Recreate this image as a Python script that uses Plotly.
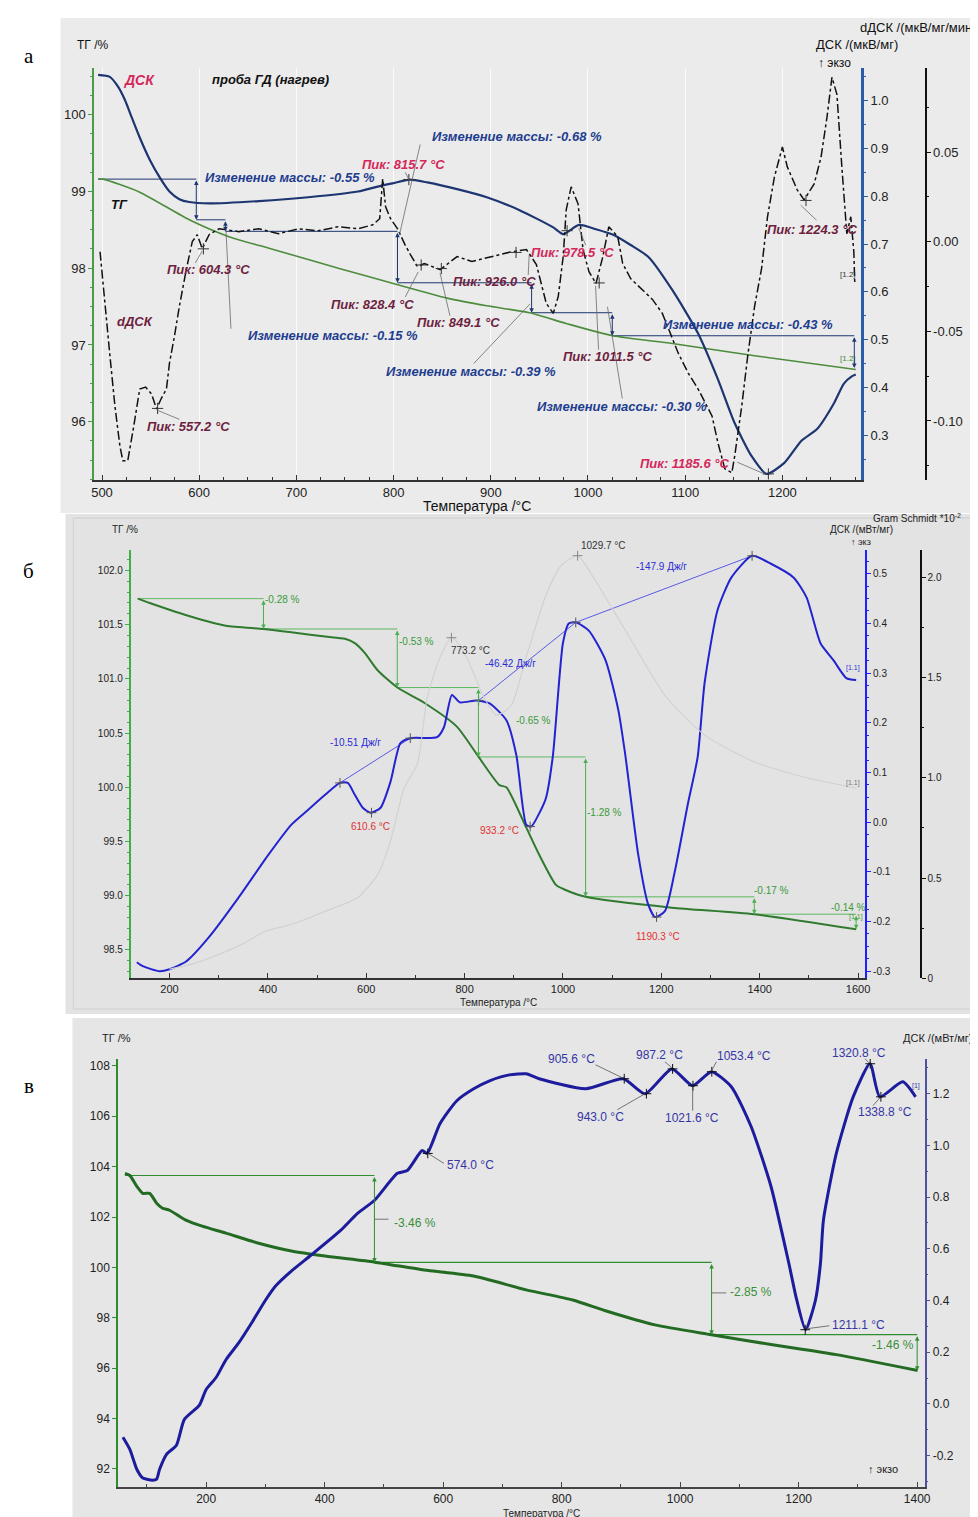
import plotly.graph_objects as go

W, H = 978, 1517
FONT = "Liberation Sans, Arial, sans-serif"
SERIF = "Liberation Serif, Times New Roman, serif"

# ===================== Panel а =====================
A_DSC_T = [496, 508, 516, 523.5, 530.6, 538.8, 549, 559.2, 569.4, 579.6, 589.8, 610.2, 661.2, 712.2,
           763.3, 788.8, 799, 816.3, 834.7, 865.3, 895.9, 929.6, 964.3, 974.5, 990.8, 1008.2, 1026.5,
           1043.9, 1062.2, 1086.7, 1113.3, 1133.7, 1151, 1168.4, 1183.7, 1202, 1219.4, 1235.7, 1253.1,
           1263.3, 1271.4, 1275.5]
A_DSC_V = [1.054, 1.050, 1.031, 1.002, 0.965, 0.923, 0.877, 0.840, 0.810, 0.794, 0.788, 0.785, 0.790, 0.798,
           0.810, 0.823, 0.827, 0.835, 0.829, 0.815, 0.798, 0.771, 0.735, 0.721, 0.740, 0.731, 0.719,
           0.698, 0.673, 0.604, 0.513, 0.417, 0.325, 0.256, 0.219, 0.242, 0.288, 0.313, 0.367,
           0.408, 0.423, 0.427]

A_TG_T = [496, 501, 538.8, 589.8, 630.6, 674.5, 745.9, 796.9, 855.1, 895.9, 939.8, 977.6, 1025.5,
          1086.7, 1171.4, 1275.5]
A_TG_V = [99.16, 99.16, 98.99, 98.63, 98.41, 98.25, 97.99, 97.81, 97.61, 97.51, 97.42, 97.28, 97.12,
          97.02, 96.86, 96.68]

A_DDSC_T = [498, 503.1, 508.2, 513.3, 518.4, 521.4, 526.5, 532.7, 538.8, 544.9, 551, 556.1, 561.2, 566.3,
            569.4, 574.5, 579.6, 586.7, 592.9, 598, 603.1, 610.2, 620.4, 640.8, 661.2, 681.6, 702, 722.4,
            742.9, 763.3, 778.6, 785.7, 788.8, 791.8, 796.9, 804.1, 811.2, 817.3, 824.5, 831.6, 848,
            865.3, 880.6, 892.9, 909.2, 921.4, 936.7, 946.9, 957.1, 964.3, 969.4, 974.5, 977.6, 982.7,
            989.8, 994.9, 1001, 1008.2, 1015.3, 1021.4, 1030.6, 1035.7, 1043.9, 1056.1, 1066.3, 1076.5,
            1086.7, 1092.9, 1103.1, 1113.3, 1127.6, 1133.7, 1140.8, 1148, 1151, 1158.2, 1164.3, 1171.4,
            1178.6, 1184.7, 1191.8, 1200, 1205.1, 1215.3, 1222.4, 1232.7, 1239.8, 1245.9, 1251, 1256.1,
            1261.2, 1266.3, 1270.4, 1273.5, 1274.5]
A_DDSC_V = [-0.0056, -0.0361, -0.0639, -0.0917, -0.1139, -0.1222, -0.1222, -0.1028, -0.0822, -0.0811,
            -0.0850, -0.0933, -0.0872, -0.0822, -0.0678, -0.0528, -0.0361, -0.0156, 0.0, 0.0039, -0.0039,
            0.0039, 0.0072, 0.0056, 0.0072, 0.0044, 0.0072, 0.0061, 0.0083, 0.0072, 0.0094, 0.0128, 0.0350,
            0.0194, 0.0128, 0.0072, -0.0011, -0.0072, -0.0139, -0.0122, -0.0156, -0.0083, -0.0111, -0.0094,
            -0.0072, -0.0056, -0.0044, -0.0128, -0.0344, -0.0400, -0.0306, -0.0083, 0.0178, 0.0306, 0.0211,
            -0.0044, -0.0167, -0.0233, -0.0083, 0.0083, 0.0028, -0.0122, -0.0206, -0.0267, -0.0322, -0.0400,
            -0.0544, -0.0622, -0.0733, -0.0822, -0.0972, -0.1122, -0.1267, -0.1289, -0.1194, -0.0917,
            -0.0639, -0.0361, -0.0150, 0.0139, 0.0361, 0.0528, 0.0417, 0.0289, 0.0233, 0.0322, 0.0472,
            0.0694, 0.0917, 0.0822, 0.0417, 0.0044, 0.0139, -0.0056, -0.0233]

A_STEP_T = [496, 597, 627, 804, 942, 1025, 1274]
A_STEP_L = [99.16, 98.63, 98.48, 97.81, 97.42, 97.12, 96.70]

A_DPEAK_T = [557.2, 604.3, 828.4, 849.1, 926.0, 1011.5, 1224.3]
A_DPEAK_V = [-0.093, -0.004, -0.013, -0.015, -0.006, -0.023, 0.023]
A_PEAK_T = [815.7, 978.5, 1185.6]
A_PEAK_V = [0.835, 0.728, 0.219]

# ===================== Panel б =====================
B_TG_T = [135.5, 159.7, 246.3, 314.8, 391.4, 447.8, 516.3, 556.6, 576.7, 596.9, 623, 663.3, 717.7, 784.2,
          828.5, 870.8, 884.9, 925.2, 951.4, 985.7, 1001.8, 1046.1, 1221.4, 1388.6, 1596.1]
B_TG_V = [101.74, 101.70, 101.57, 101.49, 101.46, 101.43, 101.39, 101.37, 101.33, 101.24, 101.08, 100.92,
          100.78, 100.56, 100.28, 100.02, 100.00, 99.63, 99.38, 99.10, 99.06, 98.99, 98.89, 98.83, 98.69]

B_DSC_T = [133.5, 145.6, 179.9, 200, 234.2, 280.6, 341, 401.5, 447.8, 482, 516.3, 546.5, 562.6, 576.7,
           592.8, 608.9, 629.1, 649.2, 669.4, 689.5, 743.9, 758, 774.1, 790.2, 824.5, 850.7, 884.9, 905.1,
           925.2, 935.3, 955.4, 965.5, 979.6, 999.8, 1011.8, 1025.9, 1052.1, 1086.4, 1112.6, 1126.7,
           1152.9, 1173, 1187.1, 1207.3, 1227.4, 1253.6, 1273.8, 1287.9, 1314, 1342.2, 1384.5, 1422.8,
           1469.2, 1495.4, 1523.6, 1549.8, 1576, 1596.1]
B_DSC_V = [-0.282, -0.290, -0.300, -0.296, -0.280, -0.231, -0.151, -0.065, -0.005, 0.025, 0.055, 0.079,
           0.079, 0.055, 0.029, 0.019, 0.029, 0.081, 0.159, 0.169, 0.171, 0.191, 0.256, 0.241, 0.245, 0.239,
           0.205, 0.135, -0.005, -0.009, 0.025, 0.049, 0.135, 0.360, 0.400, 0.402, 0.386, 0.326, 0.225,
           0.135, -0.065, -0.165, -0.191, -0.179, -0.099, 0.035, 0.131, 0.280, 0.426, 0.492, 0.536, 0.520,
           0.492, 0.452, 0.360, 0.326, 0.290, 0.286]

B_GS_T = [200, 246, 301, 347, 395, 448, 516, 583, 623, 649, 677, 704, 724, 750, 774, 804, 839, 865, 895,
          925, 965, 996, 1030, 1066, 1127, 1207, 1288, 1389, 1489, 1596]
B_GS_V = [0.045, 0.070, 0.119, 0.169, 0.234, 0.269, 0.333, 0.403, 0.517, 0.682, 0.950, 1.070, 1.403, 1.602,
          1.701, 1.602, 1.403, 1.313, 1.363, 1.602, 1.910, 2.060, 2.109, 1.985, 1.736, 1.413, 1.214, 1.080,
          1.005, 0.950]

B_BASE_T = [546.5, 689.5, None, 828.5, 1025.9, 1384.5]
B_BASE_V = [0.079, 0.169, None, 0.245, 0.402, 0.536]

B_STEP_T = [135, 391, 663, 828, 1046, 1389, 1596]
B_STEP_L = [101.74, 101.46, 100.92, 100.28, 98.99, 98.83, 98.69]

B_PEAK_T = [546.5, 689.5, 610.6, 828.5, 933.2, 1025.9, 1190.3, 1384.5]
B_PEAK_V = [0.079, 0.169, 0.019, 0.245, -0.009, 0.402, -0.191, 0.536]
B_GPEAK_T = [773.2, 1029.7]
B_GPEAK_V = [1.70, 2.11]

# ===================== Panel в =====================
C_DSC_T = [59.5, 71.2, 82.9, 93, 109.7, 116.4, 121.4, 133.1, 149.8, 163.2, 188.3, 200, 216.7, 233.4, 255.2,
           276.9, 300.3, 317.1, 343.8, 377.3, 427.4, 455.9, 484.3, 522.7, 539.5, 564.5, 572.9, 594.6,
           623.1, 651.5, 678.3, 711.7, 740.1, 761.9, 840.5, 904, 940.8, 986, 1021.1, 1052.8, 1086.3,
           1119.7, 1153.2, 1183.3, 1196.7, 1211.7, 1228.4, 1236.8, 1241.8, 1263.5, 1292, 1320.4, 1337.1,
           1375.6, 1397.3]
C_DSC_V = [-0.129, -0.176, -0.253, -0.287, -0.295, -0.291, -0.253, -0.195, -0.160, -0.060, -0.006, 0.056,
           0.102, 0.171, 0.237, 0.314, 0.402, 0.456, 0.514, 0.576, 0.672, 0.738, 0.788, 0.892, 0.903, 0.980,
           0.969, 1.084, 1.173, 1.219, 1.250, 1.273, 1.277, 1.258, 1.219, 1.258, 1.200, 1.296, 1.231, 1.285,
           1.227, 1.073, 0.842, 0.545, 0.402, 0.287, 0.402, 0.545, 0.711, 0.969, 1.188, 1.316, 1.188, 1.246,
           1.188]

C_TG_T = [62.9, 71.2, 82.9, 93, 104.7, 116.4, 126.4, 138.1, 154.8, 166.6, 193.3, 233.4, 288.6, 343.8,
          400.7, 484.3, 567.9, 651.5, 740.1, 818.7, 873.9, 957.5, 1052.8, 1153.2, 1263.5, 1400.7]
C_TG_V = [103.73, 103.65, 103.22, 102.94, 102.94, 102.55, 102.35, 102.27, 102.03, 101.87, 101.64, 101.36,
          100.96, 100.65, 100.45, 100.21, 99.90, 99.66, 99.11, 98.71, 98.28, 97.72, 97.33, 96.94, 96.54,
          95.91]

C_STEP_T = [63, 484, 1053, 1400]
C_STEP_L = [103.65, 100.20, 97.33, 95.90]

C_PEAK_T = [574.0, 905.6, 943.0, 987.2, 1021.6, 1053.4, 1211.1, 1320.8, 1338.8]
C_PEAK_V = [0.969, 1.258, 1.200, 1.296, 1.231, 1.285, 0.287, 1.316, 1.188]


# ===================== helpers =====================
def dxp(a, b):
    return [a / W, b / W]


def dyp(top, bottom):
    return [1 - bottom / H, 1 - top / H]


def stair(T, L):
    xs, ys = [], []
    for i in range(len(T) - 1):
        xs += [T[i], T[i + 1], None]
        ys += [L[i], L[i], None]
    return xs, ys


def txt(x, y, s, color="#000", size=12, xanchor="center", bi=False, family=FONT):
    t = f"<b><i>{s}</i></b>" if bi else s
    return dict(x=x / W, y=1 - y / H, xref="paper", yref="paper", text=t, showarrow=False,
                xanchor=xanchor, yanchor="middle", font=dict(color=color, size=size, family=family))


def line_shape(p1, p2, color="#777", width=0.8):
    return dict(type="line", xref="paper", yref="paper", x0=p1[0] / W, y0=1 - p1[1] / H,
                x1=p2[0] / W, y1=1 - p2[1] / H, line=dict(color=color, width=width), layer="above")


def step_arrows(T, L, xr, yr, color):
    out = []
    for i in range(len(T) - 1):
        out.append(dict(x=T[i + 1], y=L[i + 1], ax=T[i + 1], ay=L[i], xref=xr, yref=yr, axref=xr, ayref=yr,
                        text="", showarrow=True, arrowhead=2, startarrowhead=2, arrowside="end+start",
                        arrowsize=0.9, startarrowsize=0.9, arrowwidth=1, arrowcolor=color,
                        font=dict(size=8)))
    return out


fig = go.Figure()


def add_line(x, y, xa, ya, color, width, dash="solid", spline=True):
    fig.add_trace(go.Scatter(x=x, y=y, xaxis=xa, yaxis=ya, mode="lines", hoverinfo="skip", showlegend=False,
                             line=dict(color=color, width=width, dash=dash,
                                       shape="spline" if spline else "linear", smoothing=0.6)))


def add_marks(x, y, xa, ya, color, size=8):
    fig.add_trace(go.Scatter(x=x, y=y, xaxis=xa, yaxis=ya, mode="markers", hoverinfo="skip", showlegend=False,
                             marker=dict(symbol="cross-thin", size=size, line=dict(width=1, color=color))))


# ---- panel а traces ----
NAVY = "#1d3570"
sx, sy = stair(A_STEP_T, A_STEP_L)
add_line(sx, sy, "x", "y", NAVY, 1, spline=False)
add_line(A_TG_T, A_TG_V, "x", "y", "#4c8c3c", 1.6)
add_line(A_DDSC_T, A_DDSC_V, "x", "y3", "#111111", 1.5, dash="dashdot", spline=False)
add_line(A_DSC_T, A_DSC_V, "x", "y2", NAVY, 2.2)
add_marks(A_DPEAK_T, A_DPEAK_V, "x", "y3", "#333")
add_marks(A_PEAK_T, A_PEAK_V, "x", "y2", "#333")

# ---- panel б traces ----
sx, sy = stair(B_STEP_T, B_STEP_L)
add_line(sx, sy, "x2", "y4", "#5cb85c", 1, spline=False)
add_line(B_GS_T, B_GS_V, "x2", "y6", "#d0d0d0", 1.1)
add_line(B_BASE_T, B_BASE_V, "x2", "y5", "#5a5ae6", 1, spline=False)
add_line(B_TG_T, B_TG_V, "x2", "y4", "#2f7a2f", 2)
add_line(B_DSC_T, B_DSC_V, "x2", "y5", "#2323d0", 2)
add_marks(B_PEAK_T, B_PEAK_V, "x2", "y5", "#555", 7)
add_marks(B_GPEAK_T, B_GPEAK_V, "x2", "y6", "#888", 7)

# ---- panel в traces ----
sx, sy = stair(C_STEP_T, C_STEP_L)
add_line(sx, sy, "x3", "y7", "#2f8f2f", 1.2, spline=False)
add_line(C_TG_T, C_TG_V, "x3", "y7", "#236b23", 3)
add_line(C_DSC_T, C_DSC_V, "x3", "y8", "#1c1c9c", 3)
add_marks(C_PEAK_T, C_PEAK_V, "x3", "y8", "#111", 7)


# ===================== axes =====================
def xax(dom, rng, dtick, fs, anchor, grid=False, minor=None, color="#333"):
    d = dict(domain=dom, range=rng, dtick=dtick, tick0=0, anchor=anchor, showline=True, linecolor=color,
             linewidth=1.5, ticks="inside", ticklen=5, tickcolor=color,
             tickfont=dict(size=fs, color="#222", family=FONT), showgrid=grid, gridcolor="#fbfbfb",
             gridwidth=1.2, zeroline=False)
    if minor:
        d["minor"] = dict(ticks="inside", ticklen=3, dtick=minor, tickcolor=color, showgrid=False)
    return d


def yax(dom, rng, tickvals, ticktext, fs, color, side="left", anchor=None, overlaying=None, position=None,
        minor=None, lw=1.5, ticks="outside"):
    d = dict(domain=dom, range=rng, tickvals=tickvals, ticktext=ticktext, side=side, showline=True,
             linecolor=color, linewidth=lw, ticks=ticks, ticklen=4, tickcolor=color,
             tickfont=dict(size=fs, color="#222", family=FONT), showgrid=False, zeroline=False)
    if anchor:
        d["anchor"] = anchor
    if overlaying:
        d["overlaying"] = overlaying
    if position is not None:
        d["position"] = position
    if minor:
        d["minor"] = dict(ticks=ticks, ticklen=2, dtick=minor, tickcolor=color)
    return d


A_X = dxp(84, 858)
A_Y = dyp(60, 474)
B_X = dxp(121, 862)
B_Y = dyp(544, 974)
C_X = dxp(108, 922)
C_Y = dyp(1055, 1485)

A_TG_TICKS = [96, 97, 98, 99, 100]
A_DSC_TICKS = [0.3, 0.4, 0.5, 0.6, 0.7, 0.8, 0.9, 1.0]
A_DD_TICKS = [-0.10, -0.05, 0.0, 0.05]
B_TG_TICKS = [98.5, 99.0, 99.5, 100.0, 100.5, 101.0, 101.5, 102.0]
B_DSC_TICKS = [-0.3, -0.2, -0.1, 0.0, 0.1, 0.2, 0.3, 0.4, 0.5]
B_GS_TICKS = [0, 0.5, 1.0, 1.5, 2.0]
C_TG_TICKS = [92, 94, 96, 98, 100, 102, 104, 106, 108]
C_DSC_TICKS = [-0.2, 0.0, 0.2, 0.4, 0.6, 0.8, 1.0, 1.2]

layout_axes = dict(
    xaxis=xax(A_X, [492, 1281], 100, 13, "y", grid=True, minor=25),
    yaxis=yax(A_Y, [95.24, 100.61], A_TG_TICKS, [str(v) for v in A_TG_TICKS], 13, "#4a9a4a", anchor="x",
              minor=0.25, lw=2),
    yaxis2=yax(A_Y, [0.206, 1.069], A_DSC_TICKS, [f"{v:.1f}" for v in A_DSC_TICKS], 13, "#2a5ca8",
               side="right", anchor="x", overlaying="y", minor=0.05, lw=2.5),
    yaxis3=yax(A_Y, [-0.133, 0.097], A_DD_TICKS, [f"{v:.2f}" for v in A_DD_TICKS], 13, "#111",
               side="right", anchor="free", overlaying="y", position=923 / W, minor=0.025, lw=2),
    xaxis2=xax(B_X, [121.4, 1614.2], 200, 11, "y4", minor=100),
    yaxis4=yax(B_Y, [98.24, 102.19], B_TG_TICKS, [f"{v:.1f}" for v in B_TG_TICKS], 10, "#3cb043", anchor="x2",
               minor=0.1, lw=2),
    yaxis5=yax(B_Y, [-0.314, 0.548], B_DSC_TICKS, [f"{v:.1f}" for v in B_DSC_TICKS], 10, "#2020ff",
               side="right", anchor="x2", overlaying="y4", minor=0.025, lw=2),
    yaxis6=yax(B_Y, [0, 2.139], B_GS_TICKS, ["0", "0.5", "1.0", "1.5", "2.0"], 10, "#111",
               side="right", anchor="free", overlaying="y4", position=918 / W, minor=0.25, lw=2),
    xaxis3=xax(C_X, [51.2, 1412.4], 200, 12, "y7", minor=100, color="#444"),
    yaxis7=yax(C_Y, [91.28, 108.28], C_TG_TICKS, [str(v) for v in C_TG_TICKS], 12, "#2e8b2e", anchor="x3",
               lw=1.5),
    yaxis8=yax(C_Y, [-0.322, 1.335], C_DSC_TICKS, [f"{v:.1f}" for v in C_DSC_TICKS], 12, "#5050a0",
               side="right", anchor="x3", overlaying="y7", minor=0.1, lw=1.5),
)

# ===================== shapes =====================
shapes = [
    dict(type="rect", xref="paper", yref="paper", x0=50 / W, x1=1, y0=1 - 507 / H, y1=1 - 10 / H,
         fillcolor="#ebebeb", line=dict(width=0), layer="below"),
    dict(type="rect", xref="paper", yref="paper", x0=55 / W, x1=1, y0=1 - 1010 / H, y1=1 - 508 / H,
         fillcolor="#e3e3e3", line=dict(width=0), layer="below"),
    dict(type="rect", xref="paper", yref="paper", x0=63 / W, x1=973 / W, y0=1 - 1005 / H, y1=1 - 512 / H,
         fillcolor="rgba(0,0,0,0)", line=dict(width=1, color="#cfcfcf"), layer="below"),
    dict(type="rect", xref="paper", yref="paper", x0=62 / W, x1=1, y0=0, y1=1 - 1014 / H,
         fillcolor="#e6e6e6", line=dict(width=0), layer="below"),
]
LEAD_A = [((413, 137), (392, 228)), ((222, 322), (217, 224)), ((186, 256), (193, 244)),
          ((398, 290), (411, 265)), ((443, 309), (433, 266)), ((467, 357), (524, 297)),
          ((593, 343), (590, 279)), ((617, 392), (602, 300)), ((170, 413), (148, 404)),
          ((813, 213), (797, 198)), ((733, 456), (761, 468)), ((398, 165), (402, 173)),
          ((580, 238), (573, 221)), ((522, 268), (523, 248))]
LEAD_C = [((437, 1160), (421, 1150)), ((590, 1061), (617, 1074)), ((612, 1106), (640, 1090)),
          ((660, 1058), (667, 1064)), ((688, 1107), (688, 1083)), ((712, 1058), (707, 1067)),
          ((862, 1055), (866, 1059)), ((870, 1102), (877, 1094)), ((826, 1323), (803, 1326)),
          ((381, 1216), (367, 1216)), ((722, 1290), (707, 1290))]
for p1, p2 in LEAD_A:
    shapes.append(line_shape(p1, p2, "#6a6a6a", 0.8))
for p1, p2 in LEAD_C:
    shapes.append(line_shape(p1, p2, "#555", 0.8))

# ===================== annotations =====================
CR = "#d4285a"
MR = "#6e1f3f"
NB = "#1e3d8f"
ann = []
# panel labels
ann += [txt(18, 48, "а", "#000", 21, family=SERIF), txt(18, 565, "б", "#000", 21, family=SERIF),
        txt(18, 1082, "в", "#000", 21, family=SERIF)]
# panel а
ann += [
    txt(65, 37, "ТГ /%", "#111", 12, "left"),
    txt(810, 37, "ДСК /(мкВ/мг)", "#111", 13, "left"),
    txt(812, 55, "↑ экзо", "#111", 12, "left"),
    txt(855, 20, "dДСК /(мкВ/мг/мин)", "#111", 13, "left"),
    txt(470, 500, "Температура /°C", "#111", 14),
    txt(130, 72, "ДСК", CR, 14, bi=True),
    txt(262, 72, "проба ГД (нагрев)", "#111", 13, bi=True),
    txt(282, 170, "Изменение массы: -0.55 %", NB, 13, bi=True),
    txt(396, 157, "Пик: 815.7 °C", CR, 13, bi=True),
    txt(511, 129, "Изменение массы: -0.68 %", NB, 13, bi=True),
    txt(110, 197, "ТГ", "#111", 13, bi=True),
    txt(199, 263, "Пик: 604.3 °C", MR, 13, bi=True),
    txt(365, 298, "Пик: 828.4 °C", MR, 13, bi=True),
    txt(488, 275, "Пик: 926.0 °C", MR, 13, bi=True),
    txt(567, 245, "Пик: 978.5 °C", CR, 13, bi=True),
    txt(452, 316, "Пик: 849.1 °C", MR, 13, bi=True),
    txt(325, 329, "Изменение массы: -0.15 %", NB, 13, bi=True),
    txt(744, 318, "Изменение массы: -0.43 %", NB, 13, bi=True),
    txt(464, 365, "Изменение массы: -0.39 %", NB, 13, bi=True),
    txt(602, 350, "Пик: 1011.5 °C", MR, 13, bi=True),
    txt(617, 400, "Изменение массы: -0.30 %", NB, 13, bi=True),
    txt(179, 420, "Пик: 557.2 °C", MR, 13, bi=True),
    txt(680, 457, "Пик: 1185.6 °C", CR, 13, bi=True),
    txt(808, 222, "Пик: 1224.3 °C", MR, 13, bi=True),
    txt(125, 315, "dДСК", MR, 13, bi=True),
    txt(845, 268, "[1.2]", "#333", 8),
    txt(845, 352, "[1.2]", "#3a8a3a", 8),
]
# panel б
GB = "#3a9a3a"
BB = "#2b2bd6"
RB = "#e03030"
ann += [
    txt(100, 524, "ТГ /%", "#222", 10, "left"),
    txt(868, 512, "Gram Schmidt *10<sup>-2</sup>", "#222", 10, "left"),
    txt(825, 524, "ДСК /(мВт/мг)", "#222", 10, "left"),
    txt(846, 536, "↑ экз", "#222", 9, "left"),
    txt(492, 998, "Температура /°C", "#222", 10),
    txt(348, 737, "-10.51 Дж/г", BB, 10),
    txt(464, 645, "773.2 °C", "#333", 10),
    txt(504, 658, "-46.42 Дж/г", BB, 10),
    txt(598, 540, "1029.7 °C", "#333", 10),
    txt(657, 561, "-147.9 Дж/г", BB, 10),
    txt(363, 822, "610.6 °C", RB, 10),
    txt(493, 826, "933.2 °C", RB, 10),
    txt(653, 932, "1190.3 °C", RB, 10),
    txt(254, 594, "-0.28 %", GB, 10, "left"),
    txt(390, 636, "-0.53 %", GB, 10, "left"),
    txt(508, 715, "-0.65 %", GB, 10, "left"),
    txt(579, 808, "-1.28 %", GB, 10, "left"),
    txt(748, 886, "-0.17 %", GB, 10, "left"),
    txt(826, 903, "-0.14 %", GB, 10, "left"),
    txt(850, 663, "[1.1]", BB, 7),
    txt(850, 778, "[1.1]", "#777", 7),
    txt(853, 913, "[1.1]", GB, 7),
]
# panel в
BC = "#3535a5"
GC = "#3a8f3a"
ann += [
    txt(90, 1034, "ТГ /%", "#222", 11, "left"),
    txt(898, 1034, "ДСК /(мВт/мг)", "#222", 11, "left"),
    txt(535, 1511, "Температура /°C", "#222", 10),
    txt(464, 1162, "574.0 °C", BC, 12),
    txt(566, 1055, "905.6 °C", BC, 12),
    txt(595, 1113, "943.0 °C", BC, 12),
    txt(655, 1051, "987.2 °C", BC, 12),
    txt(687, 1114, "1021.6 °C", BC, 12),
    txt(740, 1052, "1053.4 °C", BC, 12),
    txt(856, 1049, "1320.8 °C", BC, 12),
    txt(882, 1108, "1338.8 °C", BC, 12),
    txt(855, 1322, "1211.1 °C", BC, 12),
    txt(408, 1220, "-3.46 %", GC, 12),
    txt(747, 1289, "-2.85 %", GC, 12),
    txt(890, 1342, "-1.46 %", GC, 12),
    txt(880, 1467, "↑ экзо", "#222", 11),
    txt(913, 1082, "[1]", BC, 7),
]
ann += step_arrows(A_STEP_T, A_STEP_L, "x", "y", NAVY)
ann += step_arrows(B_STEP_T, B_STEP_L, "x2", "y4", "#4caf50")
ann += step_arrows(C_STEP_T, C_STEP_L, "x3", "y7", "#2f8f2f")

fig.update_layout(width=W, height=H, autosize=False, margin=dict(l=0, r=0, t=0, b=0),
                  paper_bgcolor="white", plot_bgcolor="rgba(0,0,0,0)", showlegend=False,
                  font=dict(family=FONT), shapes=shapes, annotations=ann, **layout_axes)

fig.write_html("out.html")
